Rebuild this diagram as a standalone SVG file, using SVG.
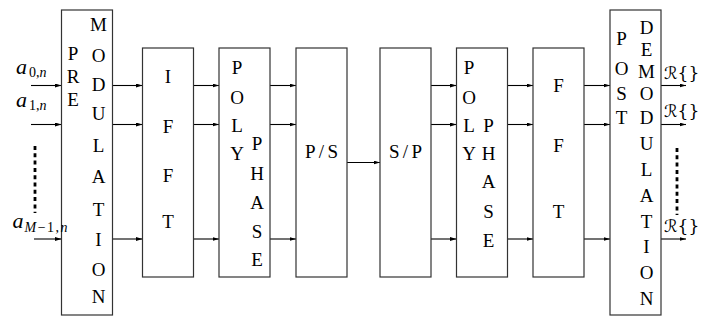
<svg xmlns="http://www.w3.org/2000/svg" width="701" height="320" viewBox="0 0 701 320">
<defs>
<marker id="ah" markerUnits="userSpaceOnUse" markerWidth="7" markerHeight="5" refX="6.5" refY="2" orient="auto">
<path d="M0,0 L6.5,2 L0,4 z" fill="#000"/>
</marker>
<style>
.box{fill:#fff;stroke:#333;stroke-width:1.2}
.t{font-size:19px;fill:#000;text-anchor:middle}
.c{stroke:#000;stroke-width:1.1;fill:none;marker-end:url(#ah)}
.dots{stroke:#000;stroke-width:2.8;stroke-dasharray:4 3.3;fill:none}
.lab{fill:#000}
.cal{font-size:17px;fill:#000}
</style>
</defs>
<rect width="701" height="320" fill="#fff"/>

<g id="connectors">
<line class="c" x1="31" y1="85.5" x2="61.5" y2="85.5"/>
<line class="c" x1="31" y1="124.5" x2="61.5" y2="124.5"/>
<line class="c" x1="34" y1="239" x2="61.5" y2="239"/>
<line class="c" x1="112.5" y1="85.5" x2="142.5" y2="85.5"/>
<line class="c" x1="112.5" y1="124.5" x2="142.5" y2="124.5"/>
<line class="c" x1="112.5" y1="239" x2="142.5" y2="239"/>
<line class="c" x1="193.5" y1="85.5" x2="219" y2="85.5"/>
<line class="c" x1="193.5" y1="124.5" x2="219" y2="124.5"/>
<line class="c" x1="193.5" y1="239" x2="219" y2="239"/>
<line class="c" x1="270" y1="85.5" x2="296" y2="85.5"/>
<line class="c" x1="270" y1="124.5" x2="296" y2="124.5"/>
<line class="c" x1="270" y1="239" x2="296" y2="239"/>
<line class="c" x1="347" y1="162.5" x2="380" y2="162.5"/>
<line class="c" x1="431" y1="85.5" x2="456.5" y2="85.5"/>
<line class="c" x1="431" y1="124.5" x2="456.5" y2="124.5"/>
<line class="c" x1="431" y1="239" x2="456.5" y2="239"/>
<line class="c" x1="507.5" y1="85.5" x2="533" y2="85.5"/>
<line class="c" x1="507.5" y1="124.5" x2="533" y2="124.5"/>
<line class="c" x1="507.5" y1="239" x2="533" y2="239"/>
<line class="c" x1="584" y1="85.5" x2="610" y2="85.5"/>
<line class="c" x1="584" y1="124.5" x2="610" y2="124.5"/>
<line class="c" x1="584" y1="239" x2="610" y2="239"/>
<line class="c" x1="661" y1="85.5" x2="686" y2="85.5"/>
<line class="c" x1="661" y1="124.5" x2="686" y2="124.5"/>
<line class="c" x1="661" y1="239" x2="686" y2="239"/>
<line class="dots" x1="35" y1="146" x2="35" y2="213"/>
<line class="dots" x1="677" y1="148" x2="677" y2="215"/>
</g>

<g font-family="Liberation Serif, Times New Roman, DejaVu Serif, serif">
<g id="premod">
<rect class="box" x="61.5" y="10" width="51" height="305"/>
<text class="t" x="73" y="60">P</text>
<text class="t" x="73" y="83">R</text>
<text class="t" x="73" y="106">E</text>
<text class="t" x="98.5" y="31">M</text>
<text class="t" x="98.5" y="62">O</text>
<text class="t" x="98.5" y="91">D</text>
<text class="t" x="98.5" y="120">U</text>
<text class="t" x="98.5" y="152">L</text>
<text class="t" x="98.5" y="183">A</text>
<text class="t" x="98.5" y="216">T</text>
<text class="t" x="98.5" y="246">I</text>
<text class="t" x="98.5" y="276">O</text>
<text class="t" x="98.5" y="303">N</text>
</g>

<g id="ifft">
<rect class="box" x="142.5" y="48" width="51" height="229"/>
<text class="t" x="168" y="83">I</text>
<text class="t" x="168" y="133">F</text>
<text class="t" x="168" y="182">F</text>
<text class="t" x="168" y="228">T</text>
</g>

<g id="polyphase1">
<rect class="box" x="219" y="48" width="51" height="229"/>
<text class="t" x="237" y="74">P</text>
<text class="t" x="237" y="103.5">O</text>
<text class="t" x="237" y="132">L</text>
<text class="t" x="237" y="160">Y</text>
<text class="t" x="257" y="150">P</text>
<text class="t" x="257" y="179.5">H</text>
<text class="t" x="257" y="208.5">A</text>
<text class="t" x="257" y="237.5">S</text>
<text class="t" x="257" y="265.5">E</text>
</g>

<g id="ps">
<rect class="box" x="296" y="48" width="51" height="229"/>
<text class="t" x="321.5" y="158" textLength="33" lengthAdjust="spacing">P/S</text>
</g>

<g id="sp">
<rect class="box" x="380" y="48" width="51" height="229"/>
<text class="t" x="405.5" y="158" textLength="33" lengthAdjust="spacing">S/P</text>
</g>

<g id="polyphase2">
<rect class="box" x="456.5" y="48" width="51" height="229"/>
<text class="t" x="469" y="74">P</text>
<text class="t" x="469" y="104">O</text>
<text class="t" x="469" y="131.5">L</text>
<text class="t" x="469" y="159.5">Y</text>
<text class="t" x="488.5" y="131.5">P</text>
<text class="t" x="488.5" y="159.5">H</text>
<text class="t" x="488.5" y="188">A</text>
<text class="t" x="488.5" y="217.5">S</text>
<text class="t" x="488.5" y="246.5">E</text>
</g>

<g id="fft">
<rect class="box" x="533" y="48" width="51" height="229"/>
<text class="t" x="558.5" y="92">F</text>
<text class="t" x="558.5" y="151.5">F</text>
<text class="t" x="558.5" y="217.5">T</text>
</g>

<g id="postdemod">
<rect class="box" x="610" y="10" width="51" height="305"/>
<text class="t" x="621.5" y="45">P</text>
<text class="t" x="621.5" y="75">O</text>
<text class="t" x="621.5" y="100">S</text>
<text class="t" x="621.5" y="124">T</text>
<text class="t" x="646.5" y="34">D</text>
<text class="t" x="646.5" y="56">E</text>
<text class="t" x="646.5" y="78">M</text>
<text class="t" x="646.5" y="100">O</text>
<text class="t" x="646.5" y="124">D</text>
<text class="t" x="646.5" y="150">U</text>
<text class="t" x="646.5" y="176">L</text>
<text class="t" x="646.5" y="202">A</text>
<text class="t" x="646.5" y="227.5">T</text>
<text class="t" x="646.5" y="253">I</text>
<text class="t" x="646.5" y="279">O</text>
<text class="t" x="646.5" y="305">N</text>
</g>

<g id="inputs">
<text class="lab" x="16" y="74" font-size="22" font-style="italic">a</text>
<text class="lab" x="29" y="77" font-size="14">0,<tspan font-style="italic">n</tspan></text>
<text class="lab" x="16" y="106.5" font-size="22" font-style="italic">a</text>
<text class="lab" x="29" y="110" font-size="14">1,<tspan font-style="italic">n</tspan></text>
<text class="lab" x="12.5" y="228" font-size="22" font-style="italic">a</text>
<text class="lab" x="24.5" y="232" font-size="14" textLength="43" lengthAdjust="spacing"><tspan font-style="italic">M</tspan>−1,<tspan font-style="italic">n</tspan></text>
</g>
</g>

<g id="outputs" font-family="DejaVu Serif, DejaVu Sans, serif">
<text class="cal" x="664" y="79">ℛ{}</text>
<text class="cal" x="664" y="117">ℛ{}</text>
<text class="cal" x="664" y="232">ℛ{}</text>
</g>
</svg>
